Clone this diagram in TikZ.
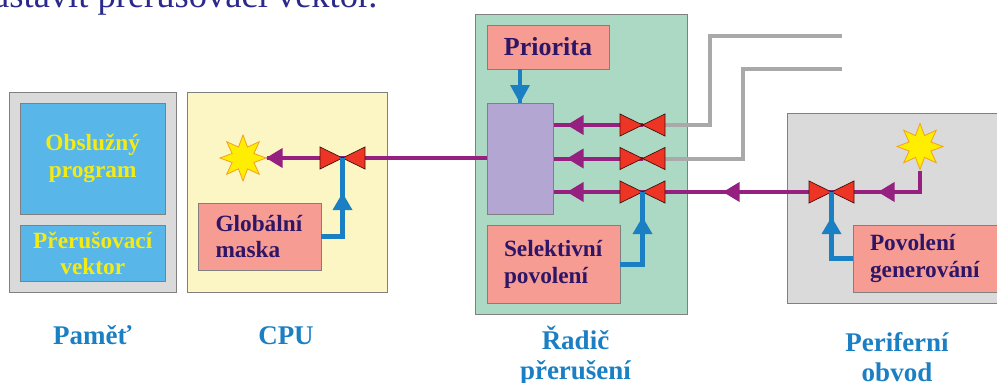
\documentclass[tikz,border=0pt]{standalone}
\usepackage{fontspec}
\setmainfont{Liberation Serif}
\usetikzlibrary{shapes.geometric}
\definecolor{cGray}{HTML}{DADADA}
\definecolor{cEdge}{HTML}{808080}
\definecolor{cSky}{HTML}{58B7E8}
\definecolor{cYel}{HTML}{F5EB14}
\definecolor{cCpu}{HTML}{FBF6C4}
\definecolor{cSalmon}{HTML}{F69C93}
\definecolor{cInk}{HTML}{2E1566}
\definecolor{cCtrl}{HTML}{ABD9C3}
\definecolor{cLav}{HTML}{B3A6D3}
\definecolor{cPur}{HTML}{95207F}
\definecolor{cBlue}{HTML}{1B7FC4}
\definecolor{cWire}{HTML}{A9A9A9}
\definecolor{cValve}{HTML}{EE3424}
\definecolor{cTitle}{HTML}{2B2A8C}
\definecolor{cSun}{HTML}{FFEE00}
\definecolor{cSunEdge}{HTML}{F2A01E}
\tikzset{
 box/.style={draw=cEdge,line width=1pt,inner sep=0pt,outer sep=0pt,anchor=north west},
 cell/.style={box,fill=cSalmon,text=cInk,font=\bfseries\fontsize{23.3}{26.5}\selectfont,align=left},
 mem/.style={box,fill=cSky,text=cYel,font=\bfseries\fontsize{23.3}{26.5}\selectfont,align=center},
 capt/.style={text=cBlue,font=\bfseries\fontsize{27}{30}\selectfont,align=center,inner sep=0pt},
 sun/.style={star,star points=8,star point ratio=1.95,minimum size=46pt,inner sep=0pt,fill=cSun,draw=cSunEdge,line width=.8pt},
 pline/.style={draw=cPur,line width=4pt},
 bline/.style={draw=cBlue,line width=4.3pt},
 gline/.style={draw=cWire,line width=4pt},
}
\newcommand{\valve}[1]{%
 \fill[cValve,draw=black!70!cValve,line width=.7pt] ([xshift=-22.5pt,yshift=-11pt]#1) -- (#1) -- ([xshift=-22.5pt,yshift=11pt]#1) -- cycle;
 \fill[cValve,draw=black!70!cValve,line width=.7pt] ([xshift=22.5pt,yshift=-11pt]#1) -- (#1) -- ([xshift=22.5pt,yshift=11pt]#1) -- cycle;}
\newcommand{\headleft}[1]{\fill[cPur] (#1) -- ++(16.5,10) -- ++(0,-20) -- cycle;}
\newcommand{\headup}[1]{\fill[cBlue] (#1) -- ++(-10,17) -- ++(20,0) -- cycle;}
\newcommand{\headdown}[1]{\fill[cBlue] (#1) -- ++(-10,-18) -- ++(20,0) -- cycle;}
\begin{document}
\begin{tikzpicture}[x=1pt,y=-1pt]
\useasboundingbox (0,0) rectangle (997,383);
\clip (0,0) rectangle (997,383);
\node[anchor=base west,inner sep=0pt,text=cTitle,font=\fontsize{36.5}{40}\selectfont] (title) at (-7,7) {astavit přerušovací vektor.};
% containers
\node[box,fill=cGray,minimum width=166.5pt,minimum height=200pt] (mem) at (9.5,92) {};
\node[box,fill=cCpu,minimum width=200.5pt,minimum height=200pt] (cpu) at (187,92) {};
\node[box,fill=cCtrl,minimum width=212pt,minimum height=300pt] (ctrl) at (475.5,14) {};
\node[box,fill=cGray,minimum width=220pt,minimum height=189.5pt] (peri) at (787,113.5) {};
% memory
\node[mem,minimum width=144.5pt,minimum height=111pt] (isr) at (20.5,103) {Obslužný\\program};
\node[mem,minimum width=144.5pt,minimum height=55.5pt] (vec) at (20.5,225.5) {Přerušovací\\vektor};
% cells
\node[cell,minimum width=123pt,minimum height=67pt,text width=88pt,inner xsep=17.5pt] (glob) at (198,203) {Globální\\maska};
\node[cell,minimum width=122pt,minimum height=44pt,align=center,font=\bfseries\fontsize{26}{28}\selectfont] (prio) at (487,25) {Priorita};
\node[box,fill=cLav,minimum width=66.5pt,minimum height=111pt] (enc) at (487,103) {};
\node[cell,minimum width=133pt,minimum height=78pt,text width=99pt,inner xsep=17pt] (sel) at (487,225.5) {Selektivní\\povolení};
\node[cell,minimum width=165pt,minimum height=67pt,text width=131pt,inner xsep=17pt] (gen) at (853,225) {Povolení\\generování};
% suns
\node[sun] (s1) at (243,158) {};
\node[sun] (s2) at (920,146.5) {};
% junctions
\coordinate (v0) at (342.5,158);
\coordinate (v1) at (642.5,125);
\coordinate (v2) at (642.5,158.5);
\coordinate (v3) at (642.5,192);
\coordinate (v4) at (831.5,192);
\coordinate (e1) at (842,36);
\coordinate (e2) at (842,69);
\coordinate (g1) at (710,36);
\coordinate (g2) at (743,69);
% grey wires
\draw[gline,line join=miter] (v1) -- (g1 |- v1) -- (g1) -- (e1);
\draw[gline,line join=miter] (v2) -- (g2 |- v2) -- (g2) -- (e2);
% purple wires
\draw[pline] (enc.west |- v0) -- (s1.east |- v0);
\draw[pline] (v1) -- (enc.east |- v1);
\draw[pline] (v2) -- (enc.east |- v2);
\draw[pline] (v3) -- (enc.east |- v3);
\draw[pline] (v4) -- (v3);
\draw[pline,line join=miter] (s2.south) -- (s2.south |- v4) -- (v4);
\headleft{266,158}
\headleft{567,125}
\headleft{567,158.5}
\headleft{567,192}
\headleft{723,192}
\headleft{878,192}
% valves
\valve{v0}\valve{v1}\valve{v2}\valve{v3}\valve{v4}
% blue wires
\draw[bline,line join=miter] (glob.east) -| (v0);
\draw[bline,line join=miter] (sel.east) -| (v3);
\draw[bline,line join=miter] (gen.west |- 0,258.5) -| (v4);
\draw[bline] (prio.south -| 520,0) -- (enc.north -| 520,0);
\headup{342.5,193}
\headup{642.5,217}
\headup{831.5,217}
\headdown{520,103}
% captions
\node[capt,anchor=base] (c1) at (92.5,344) {Paměť};
\node[capt,anchor=base] (c2) at (286,344) {CPU};
\node[capt] (c3) at (575.5,356) {Řadič\\přerušení};
\node[capt] (c4) at (897,357) {Periferní\\obvod};
\end{tikzpicture}
\end{document}
